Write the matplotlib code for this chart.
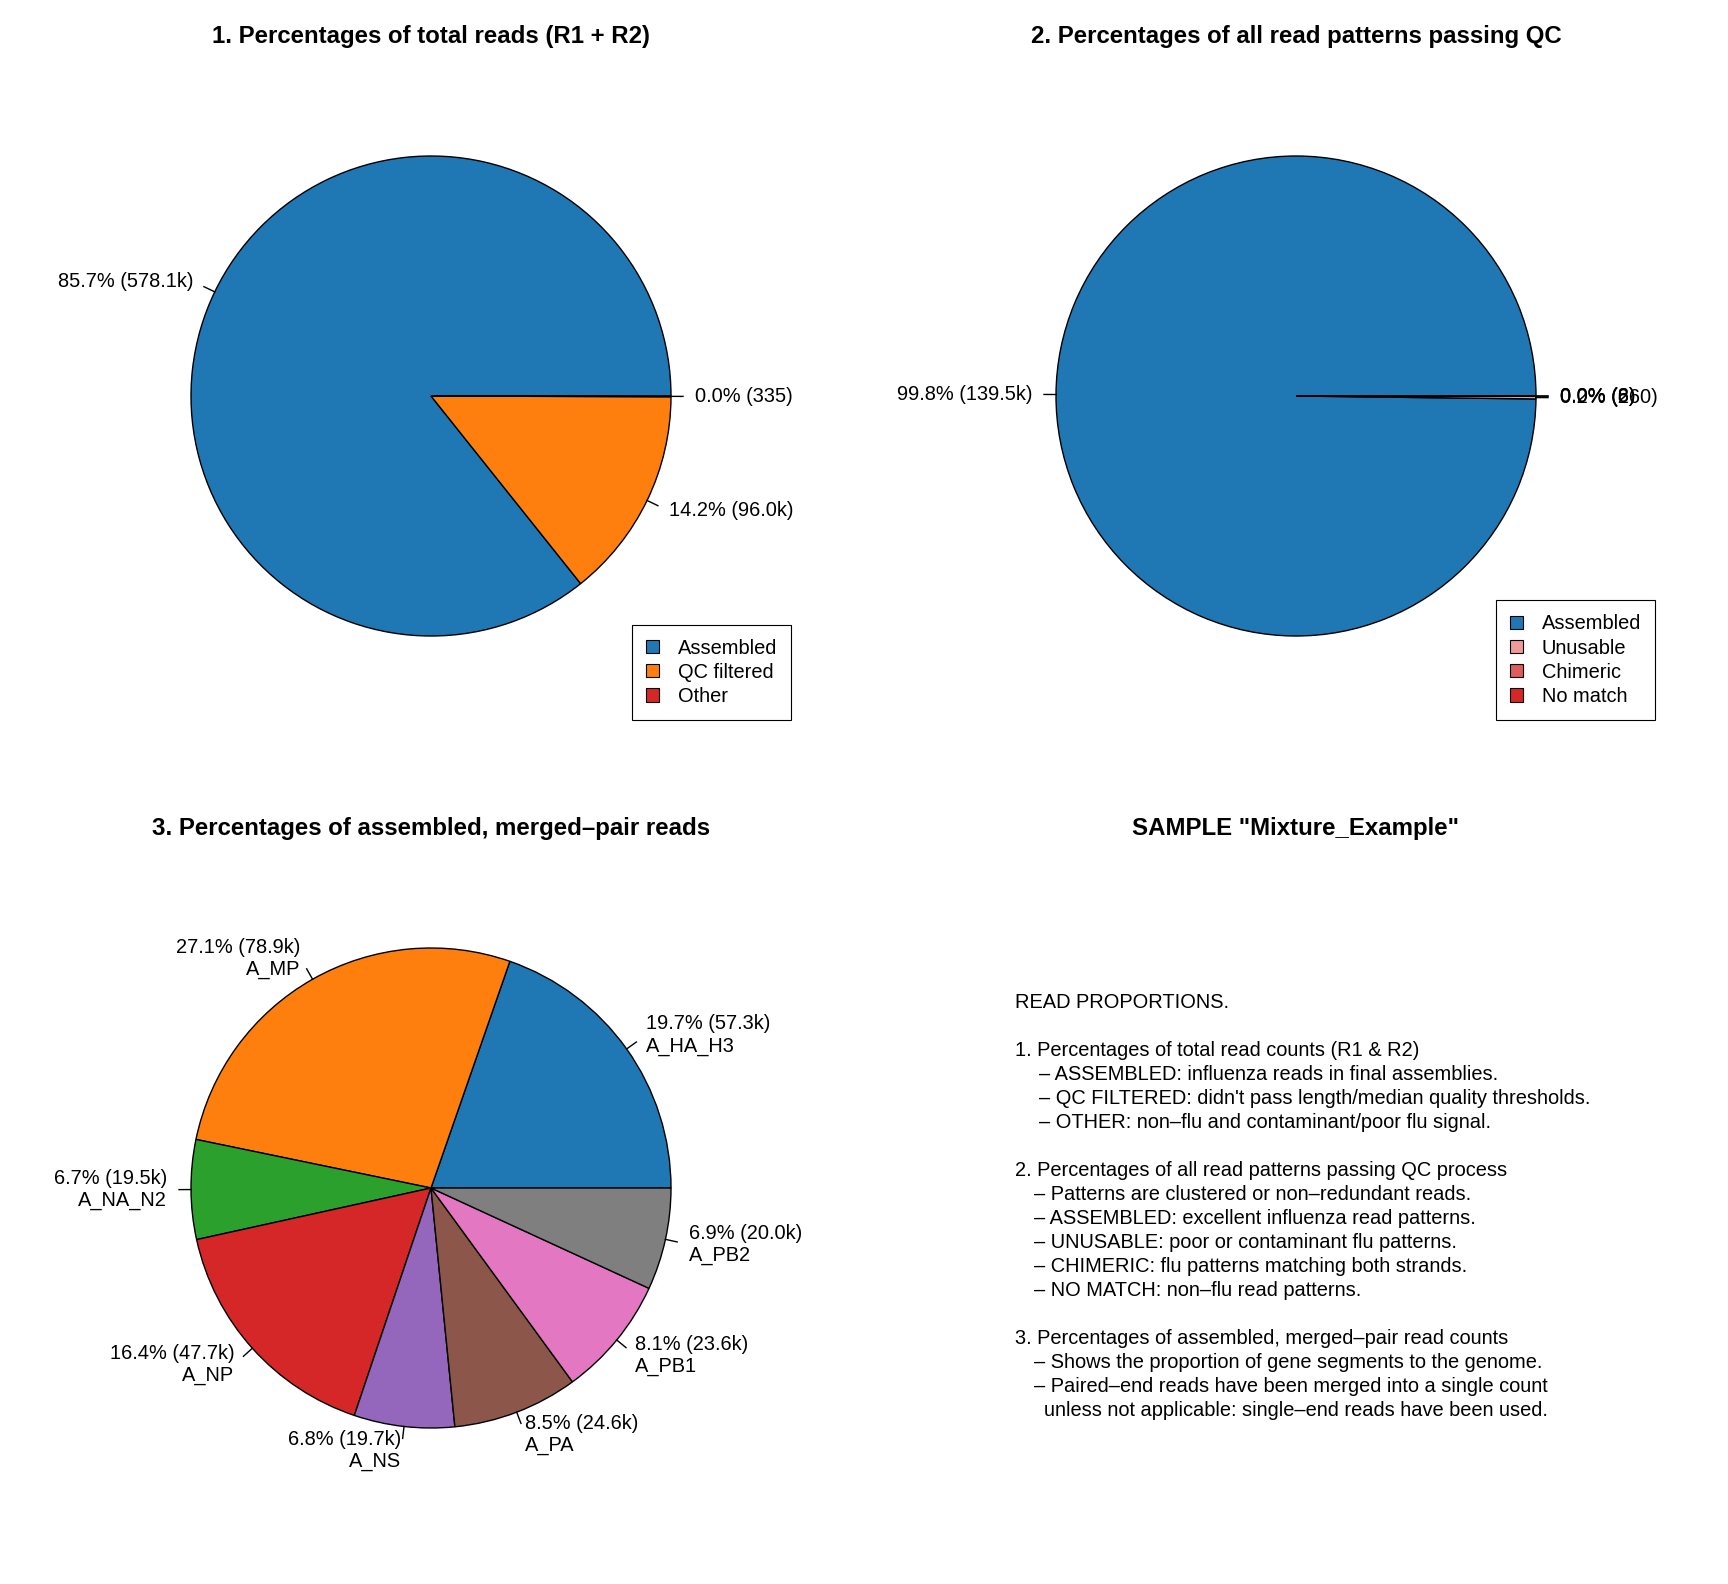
import matplotlib
matplotlib.use('Agg')
import matplotlib.pyplot as plt
import numpy as np
from matplotlib.patches import Patch

plt.rcParams['font.family'] = ['Liberation Sans', 'DejaVu Sans']

W, H = 1728, 1584
FS = 14.4
fig = plt.figure(figsize=(W / 100, H / 100), dpi=100)

# ---------------- data ----------------
p1_categories = ['Assembled', 'QC filtered', 'Other']
p1_counts = [578100, 96000, 335]
p1_pct = ['85.7%', '14.2%', '0.0%']
p1_count_txt = ['578.1k', '96.0k', '335']
p1_colors = ['#1f77b4', '#ff7f0e', '#d62728']

p2_categories = ['Assembled', 'Unusable', 'Chimeric', 'No match']
p2_counts = [139500, 260, 8, 6]
p2_pct = ['99.8%', '0.2%', '0.0%', '0.0%']
p2_count_txt = ['139.5k', '260', '8', '6']
p2_colors = ['#1f77b4', '#f09a9a', '#e05c5c', '#d62728']

p3_segments = ['A_HA_H3', 'A_MP', 'A_NA_N2', 'A_NP', 'A_NS', 'A_PA', 'A_PB1', 'A_PB2']
p3_counts = [57300, 78900, 19500, 47700, 19700, 24600, 23600, 20000]
p3_pct = ['19.7%', '27.1%', '6.7%', '16.4%', '6.8%', '8.5%', '8.1%', '6.9%']
p3_count_txt = ['57.3k', '78.9k', '19.5k', '47.7k', '19.7k', '24.6k', '23.6k', '20.0k']
p3_colors = ['#1f77b4', '#ff7f0e', '#2ca02c', '#d62728', '#9467bd', '#8c564b', '#e377c2', '#7f7f7f']

titles = ['1. Percentages of total reads (R1 + R2)',
          '2. Percentages of all read patterns passing QC',
          '3. Percentages of assembled, merged\u2013pair reads',
          'SAMPLE "Mixture_Example"']

notes = [
    (0, 'READ PROPORTIONS.'),
    (0, ''),
    (0, '1. Percentages of total read counts (R1 & R2)'),
    (1, '\u2013 ASSEMBLED: influenza reads in final assemblies.'),
    (1, "\u2013 QC FILTERED: didn't pass length/median quality thresholds."),
    (1, '\u2013 OTHER: non\u2013flu and contaminant/poor flu signal.'),
    (0, ''),
    (0, '2. Percentages of all read patterns passing QC process'),
    (2, '\u2013 Patterns are clustered or non\u2013redundant reads.'),
    (2, '\u2013 ASSEMBLED: excellent influenza read patterns.'),
    (2, '\u2013 UNUSABLE: poor or contaminant flu patterns.'),
    (2, '\u2013 CHIMERIC: flu patterns matching both strands.'),
    (2, '\u2013 NO MATCH: non\u2013flu read patterns.'),
    (0, ''),
    (0, '3. Percentages of assembled, merged\u2013pair read counts'),
    (2, '\u2013 Shows the proportion of gene segments to the genome.'),
    (2, '\u2013 Paired\u2013end reads have been merged into a single count'),
    (3, 'unless not applicable: single\u2013end reads have been used.'),
]
indent_px = [1015, 1039, 1034, 1044]


def pie_axes(cx, cy):
    half = 300
    ax = fig.add_axes([(cx - half) / W, 1 - (cy + half) / H, 2 * half / W, 2 * half / H])
    return ax


def draw_pie(ax, counts, colors, labels):
    wedges, _ = ax.pie(counts, colors=colors, startangle=0, counterclock=True, radius=1.0,
                       wedgeprops=dict(edgecolor='black', linewidth=1.0))
    ax.set_xlim(-1.25, 1.25)
    ax.set_ylim(-1.25, 1.25)
    ax.set_aspect('equal')
    ax.axis('off')
    for w, lab in zip(wedges, labels):
        th = np.deg2rad((w.theta1 + w.theta2) / 2)
        c, s = np.cos(th), np.sin(th)
        ax.plot([c, 1.05 * c], [s, 1.05 * s], color='black', lw=1.0, clip_on=False)
        ax.text(1.1 * c, 1.1 * s, lab, ha='left' if c >= 0 else 'right', va='center',
                fontsize=FS, clip_on=False, linespacing=1.2)
    return wedges


def add_legend(ax, names, colors, right, bottom):
    handles = [Patch(facecolor=c, edgecolor='black', linewidth=0.8) for c in colors]
    leg = ax.legend(handles, names, loc='lower right', bbox_to_anchor=(right / W, 1 - bottom / H),
                    bbox_transform=fig.transFigure, borderaxespad=0, fancybox=False,
                    edgecolor='black', framealpha=1, fontsize=FS, handlelength=0.65,
                    handleheight=0.65, handletextpad=0.95, labelspacing=0.26, borderpad=0.7)
    leg.get_frame().set_linewidth(0.8)


# Panel 1
ax1 = pie_axes(431, 396)
draw_pie(ax1, p1_counts, p1_colors, [f'{p} ({c})' for p, c in zip(p1_pct, p1_count_txt)])
add_legend(ax1, p1_categories, p1_colors, 791, 720)

# Panel 2
ax2 = pie_axes(1296, 396)
draw_pie(ax2, p2_counts, p2_colors, [f'{p} ({c})' for p, c in zip(p2_pct, p2_count_txt)])
add_legend(ax2, p2_categories, p2_colors, 1655, 720)

# Panel 3
ax3 = pie_axes(431, 1188)
draw_pie(ax3, p3_counts, p3_colors,
         [f'{p} ({c})\n{s}' for p, c, s in zip(p3_pct, p3_count_txt, p3_segments)])

# Titles
title_pos = [(431, 36), (1296, 36), (431, 828), (1296, 828)]
for t, (x, y) in zip(titles, title_pos):
    fig.text(x / W, 1 - y / H, t, ha='center', va='center', fontsize=17.3, fontweight='bold')

# Notes panel
for i, (ind, line) in enumerate(notes):
    if line:
        y = 1003 + i * 23.97
        fig.text(indent_px[ind] / W, 1 - y / H, line, ha='left', va='center', fontsize=FS)

fig.savefig('out.png', dpi=100, facecolor='white')
